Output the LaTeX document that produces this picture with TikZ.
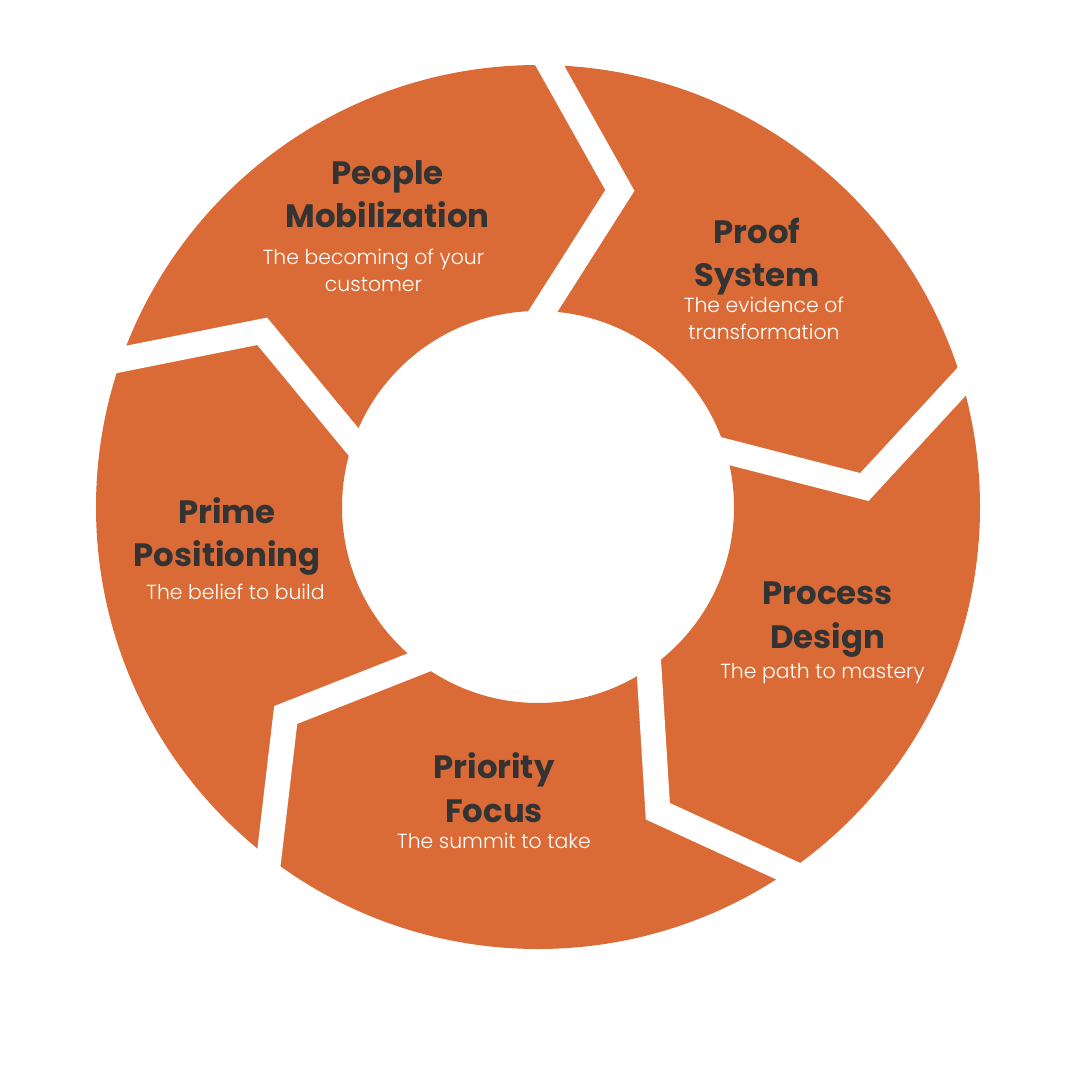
\documentclass[tikz,border=0pt]{standalone}
\usepackage{fontspec}
\setmainfont{Poppins}
\newfontfamily\lightfont{Poppins Light}
\usetikzlibrary{calc}
\definecolor{CycleOrange}{RGB}{218,107,55}
\definecolor{TitleGray}{RGB}{51,51,51}

\begin{document}
\begin{tikzpicture}[
  ring/.style={fill=CycleOrange},
  cut/.style={draw=white,line width=0.25cm,line join=miter,miter limit=10},
  ttl/.style={anchor=base,align=center,text=TitleGray,font=\fontsize{9.2}{12.3}\selectfont\bfseries},
  sub/.style={anchor=base,align=center,text=white,font=\lightfont\fontsize{5.8}{7.7}\selectfont}
]
  \useasboundingbox[fill=white] (-5.38,-5.73) rectangle (5.42,5.07);
  \fill[ring,even odd rule] (0,0) circle (4.42) (0,0) circle (1.96);
  \coordinate (t1) at (75.5:3.27);
  \coordinate (t2) at (3.5:3.27);
  \coordinate (t3) at (-68.5:3.27);
  \coordinate (t4) at (-140.5:3.27);
  \coordinate (t5) at (147.5:3.27);
  \draw[cut] ($(t1)!1.2!(88.5:4.42)$) -- (t1) -- ($(t1)!1.2!(88.5:1.96)$);
  \draw[cut] ($(t2)!1.2!(16.5:4.42)$) -- (t2) -- ($(t2)!1.2!(16.5:1.96)$);
  \draw[cut] ($(t3)!1.2!(-55.5:4.42)$) -- (t3) -- ($(t3)!1.2!(-55.5:1.96)$);
  \draw[cut] ($(t4)!1.2!(-127.5:4.42)$) -- (t4) -- ($(t4)!1.2!(-127.5:1.96)$);
  \draw[cut] ($(t5)!1.2!(160.5:4.42)$) -- (t5) -- ($(t5)!1.2!(160.5:1.96)$);
  \node[ttl] (mob) at (-1.505,2.79) {People\\Mobilization};
  \node[sub] (mobsub) at (-1.645,2.15) {The becoming of your\\customer};
  \node[ttl] (proof) at (2.19,2.20) {Proof\\System};
  \node[sub] (proofsub) at (2.26,1.67) {The evidence of\\transformation};
  \node[ttl] (process) at (2.895,-1.41) {Process\\Design};
  \node[sub] (processsub) at (2.845,-1.71) {The path to mastery};
  \node[ttl] (priority) at (-0.44,-3.15) {Priority\\Focus};
  \node[sub] (prioritysub) at (-0.44,-3.41) {The summit to take};
  \node[ttl] (prime) at (-3.11,-0.60) {Prime\\Positioning};
  \node[sub] (primesub) at (-3.025,-0.93) {The belief to build};
\end{tikzpicture}
\end{document}
